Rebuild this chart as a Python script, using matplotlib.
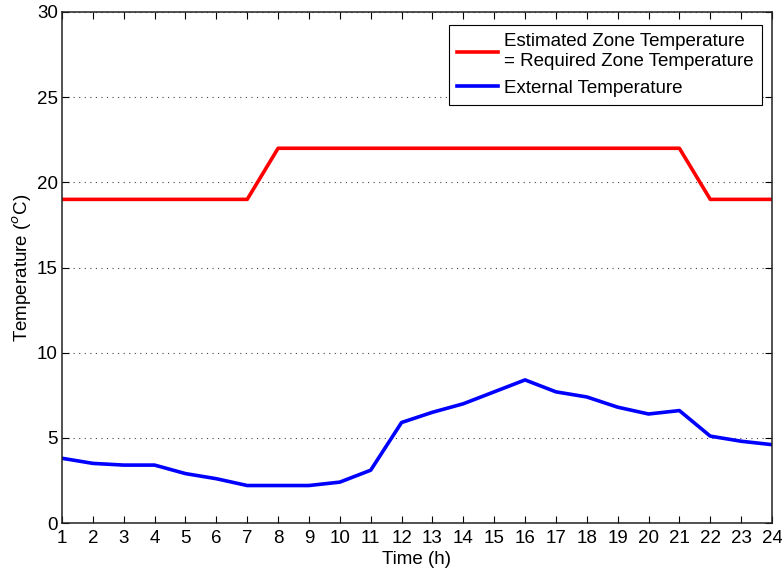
import numpy as np
import matplotlib
matplotlib.use("Agg")
import matplotlib.pyplot as plt

plt.rcParams['font.family'] = ['Liberation Sans', 'DejaVu Sans']

# Hourly data
hours = np.arange(1, 25)
zone_temp = [19, 19, 19, 19, 19, 19, 19, 22, 22, 22, 22, 22, 22, 22,
             22, 22, 22, 22, 22, 22, 22, 19, 19, 19]
ext_temp = [3.8, 3.5, 3.4, 3.4, 2.9, 2.6, 2.2, 2.2, 2.2, 2.4, 3.1, 5.9,
            6.5, 7.0, 7.7, 8.4, 7.7, 7.4, 6.8, 6.4, 6.6, 5.1, 4.8, 4.6]

fs = 13.5

fig = plt.figure(figsize=(7.82, 5.71), dpi=100)
ax = fig.add_axes([62/782, 48/571, 710/782, 511/571])

ax.plot(hours, zone_temp, color='#ff0000', lw=2.6,
        label='Estimated Zone Temperature\n= Required Zone Temperature')
ax.plot(hours, ext_temp, color='#0000ff', lw=2.6, label='External Temperature')

ax.set_xlim(1, 24)
ax.set_ylim(0, 30)
ax.set_xticks(hours)
ax.set_yticks(np.arange(0, 31, 5))
ax.yaxis.grid(True, linestyle=(0, (1, 4)), color='#444444', lw=0.8)
ax.set_axisbelow(True)

ax.tick_params(direction='in', top=True, right=True, labelsize=fs, length=5, width=0.8)
ax.tick_params(axis='x', pad=5)
ax.tick_params(axis='y', pad=3)
for s in ax.spines.values():
    s.set_linewidth(1.1)
    s.set_color('#222222')

ax.set_xlabel('Time (h)', fontsize=fs, labelpad=3)
ax.set_ylabel('Temperature ($^o$C)', fontsize=fs, labelpad=2)

leg = ax.legend(loc='upper right', bbox_to_anchor=(762/782, 1 - 25/571),
                bbox_transform=fig.transFigure, fontsize=fs, fancybox=False,
                framealpha=1, edgecolor='black', handlelength=2.2, borderaxespad=0,
                labelspacing=0.5, handletextpad=0.3, borderpad=0.45)
leg.get_frame().set_linewidth(0.8)

fig.savefig('out.png', dpi=100)
